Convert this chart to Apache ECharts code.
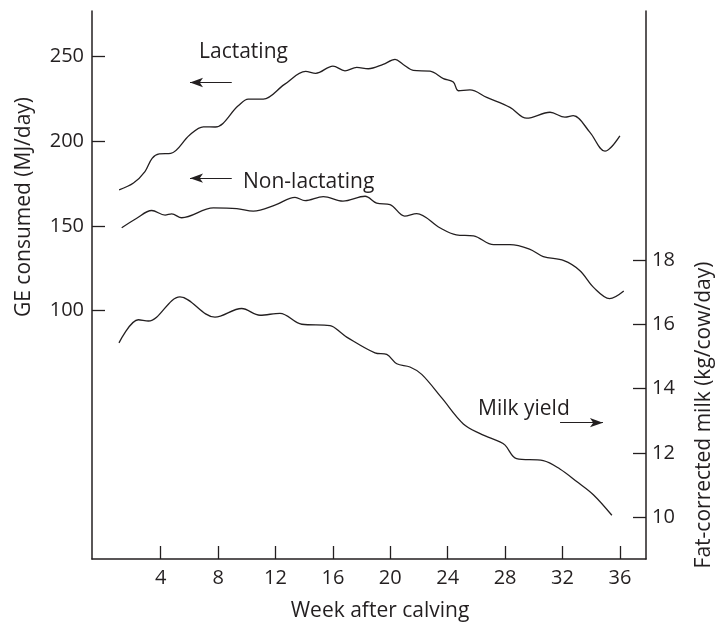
<!DOCTYPE html>
<html>
<head>
<meta charset="utf-8">
<script src="https://cdn.jsdelivr.net/npm/echarts@6/dist/echarts.min.js"></script>
<style>
  html, body { margin: 0; padding: 0; background: #fff; }
  #chart { width: 717px; height: 627px; }
</style>
</head>
<body>
<div id="chart"></div>
<script>
// Gross energy intake (left axis, MJ/day) by week after calving
const lactating = [
  [1.1,171.4],[2.1,175.4],[2.9,182.2],[3.4,190],[3.9,192.6],[4.7,192.9],[6.0,203.6],
  [6.97,208.6],[7.8,208.5],[9.4,221],[10.1,225],[11.15,225],[12.6,233.5],[14.1,241.3],
  [14.8,240.2],[16.0,244.5],[16.84,241.7],[17.66,243.7],[18.47,242.9],[19.5,245.5],
  [20.33,248.4],[20.9,245.4],[21.6,241.9],[22.77,241.5],[23.7,237.1],[24.39,235.1],
  [24.74,229.9],[25.55,230.4],[26.72,226],[28.34,220.1],[29.5,213.7],[31.13,217.2],
  [32.17,214.3],[32.75,215.2],[33.9,205.5],[34.96,194.2],[36.0,203.2]
];
const nonLactating = [
  [1.28,149],[2.3,154.5],[3.37,159.2],[4.3,156.5],[4.77,157.2],[5.46,154.9],[7.67,160.7],
  [9.3,160.3],[10.45,158.8],[12,162.5],[13.36,167],[14.06,165],[15.33,167.4],[16.7,164.7],
  [18.24,167.6],[19.05,163.5],[19.98,162.7],[21.0,155.9],[21.84,157.4],[23.45,149],
  [24.6,144.8],[25.8,144.2],[27.2,139],[28.34,139],[29.7,136.4],[30.66,132],[32.1,129.6],
  [33.2,123.8],[34.2,113.5],[35.28,107.2],[36.27,111.7]
];
// Fat-corrected milk yield (right axis, kg/cow/day)
const milkYield = [
  [1.09,15.42],[2.44,16.14],[3.14,16.1],[5.34,16.85],[7.78,16.22],[9.64,16.49],[10.92,16.28],
  [12.31,16.34],[13.83,16.0],[15.8,15.96],[16.61,15.72],[16.96,15.6],[18.93,15.11],
  [19.75,15.06],[20.45,14.77],[21.37,14.67],[22.19,14.44],[23.6,13.7],[25.09,12.9],
  [26.26,12.6],[27.64,12.34],[28.0,12.24],[28.8,11.82],[30.66,11.76],[31.82,11.5],
  [32.99,11.11],[34.15,10.7],[35.44,10.06]
];

const weekTicks = [4, 8, 12, 16, 20, 24, 28, 32, 36];
const geTicks = [100, 150, 200, 250];
const milkTicks = [10, 12, 14, 16, 18];

// Arrow annotations, in data units: [fromWeek, toWeek, level]
const lactArrow = [8.95, 6.04, 234.8];
const nonLactArrow = [8.95, 6.04, 178.3];
const milkArrow = [31.83, 34.82, 12.94];

const INK = '#231f20';
const FONT = 'Open Sans';
const FS = 20;     // tick labels
const FT = 21;     // titles and annotations

function arrow(a) {
  return [[
    { coord: [a[0], a[2]], symbol: 'none' },
    { coord: [a[1], a[2]], symbol: 'arrow', symbolSize: [7, 13] }
  ]];
}
const arrowStyle = {
  silent: true,
  animation: false,
  label: { show: false },
  lineStyle: { color: INK, width: 1.2, type: 'solid' },
  itemStyle: { color: INK },
  emphasis: { disabled: true }
};

function note(text, x, y) {
  return {
    type: 'text', x: x, y: y,
    style: { text: text, fontSize: FT, fontFamily: FONT, fill: INK, align: 'left', verticalAlign: 'middle' }
  };
}
function sideTitle(text, x, y) {
  return {
    type: 'text', x: x, y: y, rotation: Math.PI / 2,
    style: { text: text, fontSize: FT, fontFamily: FONT, fill: INK, align: 'center', verticalAlign: 'middle' }
  };
}

const chart = echarts.init(document.getElementById('chart'), null, { renderer: 'canvas' });
chart.setOption({
  animation: false,
  backgroundColor: '#fff',
  textStyle: { fontFamily: FONT, color: INK },
  grid: { left: 92, right: 71, top: 11, bottom: 62, containLabel: false },
  xAxis: {
    type: 'value',
    min: -0.79,
    max: 37.82,
    splitLine: { show: false },
    axisLine: { show: true, onZero: false, lineStyle: { color: INK, width: 1.5 } },
    axisTick: { show: true, inside: true, length: 13, customValues: weekTicks, lineStyle: { color: INK, width: 1.3 } },
    axisLabel: { customValues: weekTicks, margin: 9, fontSize: FS, color: INK, fontFamily: FONT },
    name: 'Week after calving',
    nameLocation: 'middle',
    nameGap: 42,
    nameTextStyle: { fontSize: FT, color: INK, fontFamily: FONT, padding: [0, 0, 0, 22] }
  },
  yAxis: [
    {
      type: 'value',
      position: 'left',
      min: -46.6,
      max: 277,
      splitLine: { show: false },
      axisLine: { show: true, onZero: false, lineStyle: { color: INK, width: 1.5 } },
      axisTick: { show: true, inside: true, length: 13, customValues: geTicks, lineStyle: { color: INK, width: 1.3 } },
      axisLabel: { customValues: geTicks, margin: 8, fontSize: FS, color: INK, fontFamily: FONT }
    },
    {
      type: 'value',
      position: 'right',
      min: 8.70,
      max: 25.74,
      splitLine: { show: false },
      axisLine: { show: true, onZero: false, lineStyle: { color: INK, width: 1.5 } },
      axisTick: { show: true, inside: true, length: 13, customValues: milkTicks, lineStyle: { color: INK, width: 1.3 } },
      axisLabel: { customValues: milkTicks, margin: 6, fontSize: FS, color: INK, fontFamily: FONT }
    }
  ],
  graphic: [
    note('Lactating', 199, 52),
    note('Non-lactating', 243, 182),
    note('Milk yield', 478, 409),
    sideTitle('GE consumed (MJ/day)', 24, 207),
    sideTitle('Fat-corrected milk (kg/cow/day)', 704, 415)
  ],
  series: [
    {
      name: 'Lactating', type: 'line', yAxisIndex: 0, data: lactating,
      smooth: 0.35, showSymbol: false, symbol: 'none',
      lineStyle: { color: INK, width: 1.3 },
      markLine: Object.assign({ data: arrow(lactArrow) }, arrowStyle)
    },
    {
      name: 'Non-lactating', type: 'line', yAxisIndex: 0, data: nonLactating,
      smooth: 0.35, showSymbol: false, symbol: 'none',
      lineStyle: { color: INK, width: 1.3 },
      markLine: Object.assign({ data: arrow(nonLactArrow) }, arrowStyle)
    },
    {
      name: 'Milk yield', type: 'line', yAxisIndex: 1, data: milkYield,
      smooth: 0.35, showSymbol: false, symbol: 'none',
      lineStyle: { color: INK, width: 1.3 },
      markLine: Object.assign({ data: arrow(milkArrow) }, arrowStyle)
    }
  ]
});
</script>
</body>
</html>
